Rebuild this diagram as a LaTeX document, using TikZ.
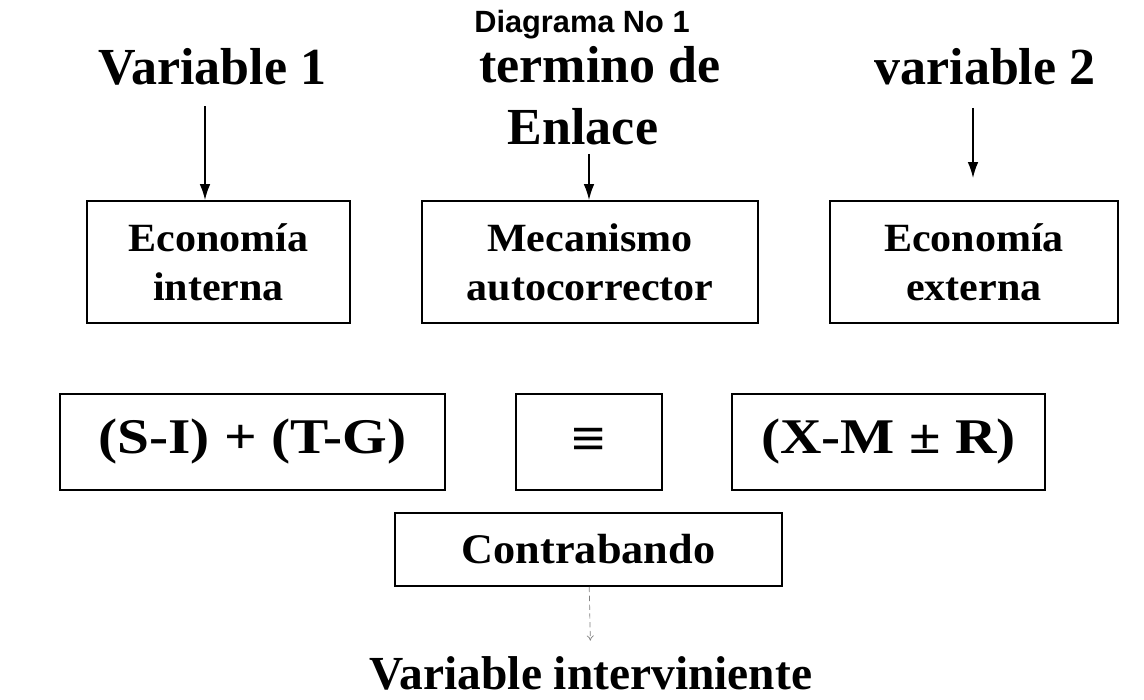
\documentclass[tikz,border=0pt]{standalone}
\usepackage{fontspec}
\setmainfont{Liberation Serif}
\newfontfamily\titlefont{Liberation Sans}
\newfontfamily\boxfont[FakeStretch=1.05]{Liberation Serif}
\newfontfamily\termfont[FakeStretch=1.15]{Liberation Serif}
\usetikzlibrary{positioning, arrows.meta}
\tikzset{
  every node/.style={font=\bfseries},
  % headings over the boxes
  varlbl/.style={font=\fontsize{29.6}{35.3}\selectfont\bfseries,
                 inner sep=0pt, anchor=base, align=center},
  % concept boxes, top row
  conbox/.style={draw, line width=1.1pt, minimum height=2.44cm,
                 align=center, inner sep=2pt,
                 font=\boxfont\fontsize{22.8}{27.9}\selectfont\bfseries},
  % identity boxes, second row
  termbox/.style={draw, line width=1.1pt, minimum height=1.92cm,
                  inner sep=2pt,
                  font=\termfont\fontsize{28.4}{30}\selectfont\bfseries},
  link/.style={-{Latex[length=9pt,width=6pt]}, line width=0.8pt},
  weak/.style={-{To[length=3pt,width=4pt]}, densely dashed,
               line width=0.4pt, gray},
}

\begin{document}
\begin{tikzpicture}
\useasboundingbox (0,0) rectangle (22.88,14);
\node[font=\titlefont\fontsize{17.5}{20}\selectfont\bfseries, inner sep=0pt,
      anchor=base] (title) at (11.64,13.34) {Diagrama No 1};
\node[varlbl] (var1) at (4.25,12.3) {Variable 1};
\node[varlbl] (term) at (12.0,12.34) {termino de};
\node[varlbl] (enl)  at (11.66,11.1) {Enlace};
\node[varlbl] (var2) at (19.7,12.3) {variable 2};
\node[conbox, minimum width=5.26cm] (ecoint) at (4.37,8.76)  {Economía\\interna};
\node[conbox, minimum width=6.72cm] (meca)   at (11.8,8.76)  {Mecanismo\\autocorrector};
\node[conbox, minimum width=5.76cm] (ecoext) at (19.48,8.76) {Economía\\externa};
\node[termbox, minimum width=7.7cm]  (dom) at (5.05,5.16)  {(S-I) + (T-G)};
\node[termbox, minimum width=2.92cm] (eq)  at (11.78,5.16) {\fontsize{30}{30}\selectfont ≡};
\node[termbox, minimum width=6.26cm] (ext) at (17.77,5.16) {(X-M ± R)};
\node[conbox, minimum width=7.74cm, minimum height=1.46cm,
      font=\boxfont\fontsize{24}{26}\selectfont\bfseries] (contra) at (11.77,3.01) {Contrabando};
\node[varlbl, font=\fontsize{27}{30}\selectfont\bfseries] (interv) at (11.82,0.2) {Variable interviniente};
% arrows from headings
\path (ecoint.north) ++(-0.27,0) coordinate (t1);
\path (meca.north) ++(-0.02,0) coordinate (t2);
\coordinate (t3) at (19.46,10.44);
\draw[link] (var1.south -| t1) ++(0,-0.4) -- (t1);
\draw[link] (enl.south -| t2) ++(0,-0.16) -- (t2);
\draw[link] (var2.south -| t3) ++(0,-0.44) -- (t3);
\draw[weak, shorten >=0.32cm] (contra) -- (interv);
\end{tikzpicture}
\end{document}
